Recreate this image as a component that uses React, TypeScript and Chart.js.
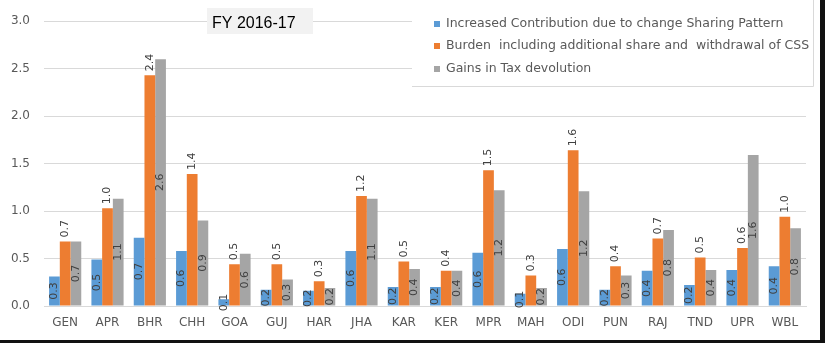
import React, { useEffect, useRef } from 'react';
import { Chart, registerables } from 'chart.js';

Chart.register(...registerables);

const categories = ['GEN', 'APR', 'BHR', 'CHH', 'GOA', 'GUJ', 'HAR', 'JHA', 'KAR', 'KER', 'MPR', 'MAH', 'ODI', 'PUN', 'RAJ', 'TND', 'UPR', 'WBL'];

const contribution = [0.31, 0.49, 0.72, 0.58, 0.07, 0.17, 0.16, 0.58, 0.2, 0.2, 0.56, 0.13, 0.6, 0.17, 0.37, 0.22, 0.38, 0.42];
const burden = [0.68, 1.03, 2.43, 1.39, 0.44, 0.44, 0.26, 1.16, 0.47, 0.37, 1.43, 0.32, 1.64, 0.42, 0.71, 0.51, 0.61, 0.94];
const taxGains = [0.68, 1.13, 2.6, 0.9, 0.55, 0.28, 0.19, 1.13, 0.39, 0.37, 1.22, 0.19, 1.21, 0.32, 0.8, 0.38, 1.59, 0.82];

const contributionLabels = ['0.3', '0.5', '0.7', '0.6', '0.1', '0.2', '0.2', '0.6', '0.2', '0.2', '0.6', '0.1', '0.6', '0.2', '0.4', '0.2', '0.4', '0.4'];
const burdenLabels = ['0.7', '1.0', '2.4', '1.4', '0.5', '0.5', '0.3', '1.2', '0.5', '0.4', '1.5', '0.3', '1.6', '0.4', '0.7', '0.5', '0.6', '1.0'];
const taxGainsLabels = ['0.7', '1.1', '2.6', '0.9', '0.6', '0.3', '0.2', '1.1', '0.4', '0.4', '1.2', '0.2', '1.2', '0.3', '0.8', '0.4', '1.6', '0.8'];

const seriesNames = [
  'Increased Contribution due to change Sharing Pattern',
  'Burden  including additional share and  withdrawal of CSS',
  'Gains in Tax devolution',
];
const seriesColors = ['#5B9BD5', '#ED7D31', '#A5A5A5'];
const chartTitle = 'FY 2016-17';

const FONT = '"DejaVu Sans", sans-serif';

const labelPlugin = {
  id: 'barLabels',
  afterDatasetsDraw(chart: any) {
    const ctx = chart.ctx;
    const labelSets = [contributionLabels, burdenLabels, taxGainsLabels];
    ctx.save();
    ctx.font = `11px ${FONT}`;
    ctx.fillStyle = '#404040';
    chart.data.datasets.forEach((_ds: any, i: number) => {
      const meta = chart.getDatasetMeta(i);
      meta.data.forEach((bar: any, j: number) => {
        const { x, y, base } = bar.getProps(['x', 'y', 'base'], true);
        const txt = labelSets[i][j];
        ctx.save();
        if (i === 1) {
          ctx.translate(x, y - 4);
          ctx.rotate(-Math.PI / 2);
          ctx.textAlign = 'left';
        } else {
          ctx.translate(x, (y + base) / 2);
          ctx.rotate(-Math.PI / 2);
          ctx.textAlign = 'center';
        }
        ctx.textBaseline = 'middle';
        ctx.fillText(txt, 0, 0);
        ctx.restore();
      });
    });
    ctx.restore();
  },
  afterDraw(chart: any) {
    const ctx = chart.ctx;
    ctx.save();
    // Title box
    ctx.fillStyle = '#F2F2F2';
    ctx.fillRect(207, 8, 106, 26);
    ctx.fillStyle = '#000000';
    ctx.font = `16px "Liberation Sans", sans-serif`;
    ctx.textAlign = 'left';
    ctx.textBaseline = 'middle';
    ctx.fillText(chartTitle, 212, 24);

    // Legend box
    ctx.fillStyle = '#FFFFFF';
    ctx.fillRect(412, 0, 401, 86);
    ctx.strokeStyle = '#D9D9D9';
    ctx.lineWidth = 1;
    ctx.beginPath();
    ctx.moveTo(412, 86.5);
    ctx.lineTo(813.5, 86.5);
    ctx.lineTo(813.5, 0);
    ctx.stroke();

    ctx.font = `12.5px ${FONT}`;
    ctx.textBaseline = 'middle';
    const rows = [24, 46, 69];
    seriesNames.forEach((name, i) => {
      ctx.fillStyle = seriesColors[i];
      ctx.fillRect(434, rows[i] - 3, 6, 6);
      ctx.fillStyle = '#595959';
      ctx.fillText(name, 446, rows[i]);
    });

    // Outer dark frame (right and bottom)
    ctx.fillStyle = '#111111';
    ctx.fillRect(820, 0, 5, 343);
    ctx.fillRect(0, 340, 825, 3);
    ctx.restore();
  },
};

export default function App() {
  const canvasRef = useRef<HTMLCanvasElement | null>(null);

  useEffect(() => {
    document.body.style.margin = '0';
    const canvas = canvasRef.current;
    if (!canvas) return;
    const chart = new Chart(canvas, {
      type: 'bar',
      data: {
        labels: categories,
        datasets: [
          { label: seriesNames[0], data: contribution, backgroundColor: seriesColors[0] },
          { label: seriesNames[1], data: burden, backgroundColor: seriesColors[1] },
          { label: seriesNames[2], data: taxGains, backgroundColor: seriesColors[2] },
        ],
      },
      options: {
        responsive: false,
        animation: false,
        maintainAspectRatio: false,
        layout: { padding: { left: 0, right: 19, top: 19, bottom: 0 } },
        datasets: {
          bar: { categoryPercentage: 0.76, barPercentage: 1.0 },
        },
        plugins: {
          legend: { display: false },
          title: { display: false },
          tooltip: { enabled: false },
        },
        scales: {
          x: {
            grid: { display: false, drawTicks: false },
            border: { color: '#D9D9D9' },
            ticks: { color: '#595959', font: { family: FONT, size: 12 }, padding: 10, maxRotation: 0, autoSkip: false },
            afterFit(scale: any) { scale.height = 37; },
          },
          y: {
            min: 0,
            max: 3,
            ticks: {
              stepSize: 0.5,
              color: '#595959',
              font: { family: FONT, size: 12 },
              padding: 14,
              callback: (v: any) => Number(v).toFixed(1),
            },
            grid: { color: '#D9D9D9', drawTicks: false },
            border: { display: false },
            afterFit(scale: any) { scale.width = 44; },
          },
        },
      },
      plugins: [labelPlugin],
    });
    return () => chart.destroy();
  }, []);

  return (
    <div style={{ width: 825, height: 343, position: 'relative', background: '#fff' }}>
      <canvas ref={canvasRef} width={825} height={343} style={{ display: 'block' }} />
    </div>
  );
}
